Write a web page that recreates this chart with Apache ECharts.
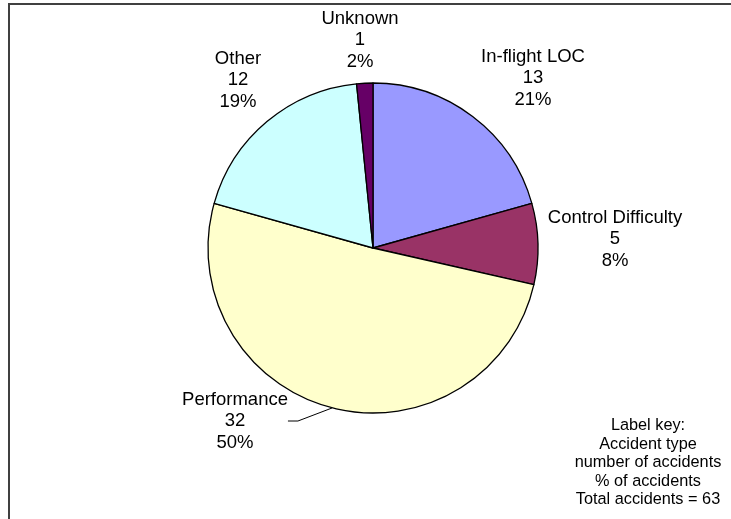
<!DOCTYPE html>
<html>
<head>
<meta charset="utf-8">
<script src="https://cdn.jsdelivr.net/npm/echarts@6/dist/echarts.min.js"></script>
<style>
  html, body { margin: 0; padding: 0; background: #fff; }
  #main { width: 731px; height: 519px; }
</style>
</head>
<body>
<div id="main"></div>
<script>
// data
var categories = ['In-flight LOC', 'Control Difficulty', 'Performance', 'Other', 'Unknown'];
var accidents = [13, 5, 32, 12, 1];
var percentLabels = ['21%', '8%', '50%', '19%', '2%'];
var totalAccidents = 63;

// styles
var sliceColors = ['#9999FF', '#993366', '#FFFFCC', '#CCFFFF', '#660066'];
var labelPos = [[533, 78], [615, 239], [235, 421], [238, 80], [360, 40]];

var chartDom = document.getElementById('main');
var myChart = echarts.init(chartDom);

var pieData = categories.map(function (name, i) {
  var item = {
    name: name,
    value: accidents[i],
    itemStyle: { color: sliceColors[i] },
    labelLine: { show: false }
  };
  if (name === 'Performance') {
    item.labelLine = { show: true };
  }
  return item;
});

var option = {
  backgroundColor: '#fff',
  animation: false,
  graphic: [
    {
      type: 'rect',
      shape: { x: 9, y: 4, width: 800, height: 600 },
      style: { fill: 'none', stroke: '#404040', lineWidth: 2 },
      silent: true
    },
    {
      type: 'text',
      x: 648,
      y: 463,
      style: {
        text: 'Label key:\nAccident type\nnumber of accidents\n% of accidents\nTotal accidents = ' + totalAccidents,
        font: '16.3px "Liberation Sans", Arial, sans-serif',
        fill: '#000',
        align: 'center',
        verticalAlign: 'middle',
        lineHeight: 18.5
      }
    }
  ],
  series: [
    {
      type: 'pie',
      center: [373, 248],
      radius: 165,
      startAngle: 90,
      clockwise: true,
      avoidLabelOverlap: false,
      itemStyle: { borderColor: '#000', borderWidth: 1.3 },
      emphasis: { disabled: true },
      label: {
        show: true,
        position: 'outside',
        color: '#000',
        fontFamily: '"Liberation Sans", Arial, sans-serif',
        fontSize: 18.5,
        lineHeight: 21.5,
        align: 'center',
        formatter: function (p) {
          return p.name + '\n' + p.value + '\n' + percentLabels[p.dataIndex];
        }
      },
      labelLine: {
        smooth: false,
        length: 10,
        length2: 10,
        lineStyle: { color: '#000', width: 1 }
      },
      labelLayout: function (params) {
        var pos = labelPos[params.dataIndex];
        return {
          x: pos[0],
          y: pos[1],
          align: 'center',
          verticalAlign: 'middle'
        };
      },
      data: pieData
    }
  ]
};

option && myChart.setOption(option);
</script>
</body>
</html>
